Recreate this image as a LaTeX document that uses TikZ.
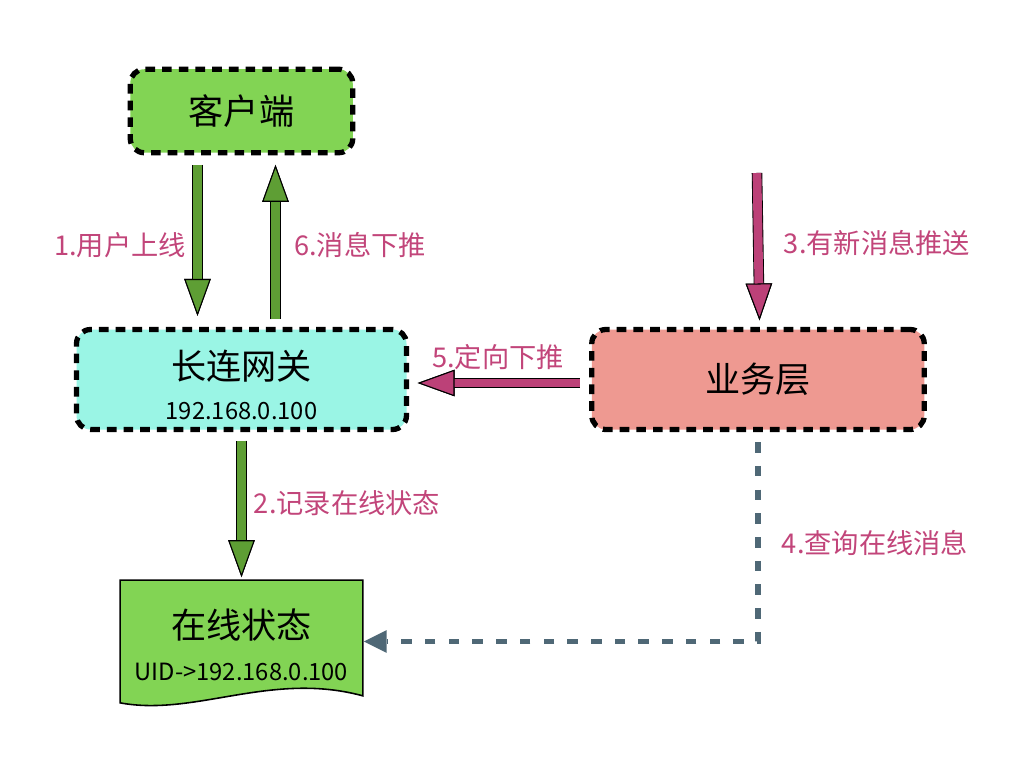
\documentclass[tikz,border=0pt]{standalone}
\usepackage{fontspec}
\newfontfamily\cjk{Noto Sans CJK SC}
\usetikzlibrary{positioning,arrows.meta,backgrounds}
\definecolor{leafgreen}{HTML}{82D454}
\definecolor{aqua}{HTML}{9AF5E5}
\definecolor{salmon}{HTML}{EE9991}
\definecolor{grassarrow}{HTML}{5E9E34}
\definecolor{berry}{HTML}{BC4178}
\definecolor{berrytext}{HTML}{C2457A}
\definecolor{slate}{HTML}{4F6876}
\newcommand\ipfont{\fontsize{13.5}{16}\selectfont}
\tikzset{
	box/.style={draw=black, line width=3pt, dash pattern=on 5.5pt off 4pt,
		rounded corners=8pt, align=center, font=\cjk\fontsize{20}{24}\selectfont},
	fatarrow/.style={draw=#1, line width=5pt, preaction={draw=black, line width=6pt},
		-{Triangle[width=15pt,length=21pt,line width=0.6pt,fill=#1,color=black]}},
	dasharrow/.style={draw=slate, line width=3.2pt, dash pattern=on 6pt off 7.5pt,
		-{Triangle[width=13pt,length=13pt,line width=0pt]}},
	lbl/.style={text=berrytext, font=\cjk\fontsize{15.5}{18}\selectfont}
}
\begin{document}
\begin{tikzpicture}
	\useasboundingbox (0,0) rectangle (20.48,15.36);
	% boxes
	\node [box, fill=leafgreen, minimum width=4.45cm, minimum height=1.67cm] (client) at (4.83,13.14) {客户端};
	\node [box, fill=aqua, minimum width=6.6cm, minimum height=2cm, below=3.43cm of client]
		(gateway) {\rule{0pt}{22.6pt}长连网关\\[-1pt]{\ipfont 192.168.0.100}};
	\node [box, fill=salmon, minimum width=6.65cm, minimum height=2cm, right=3.6cm of gateway] (service) {业务层};
	\node [align=center, font=\cjk\fontsize{20}{24}\selectfont, minimum width=4.84cm, minimum height=2.44cm,
		below=2.96cm of gateway] (state) {\rule{0pt}{21pt}在线状态\\[0pt]{\ipfont UID->192.168.0.100}};
	\begin{scope}[on background layer]
		\fill [white] (0,0) rectangle (20.48,15.36);
		\draw [fill=leafgreen, line width=0.9pt] (state.north west) -- (state.north east)
			-- ([yshift=0.14cm]state.south east)
			.. controls ([xshift=-1.84cm,yshift=0.64cm]state.south east) and ([xshift=1.5cm,yshift=-0.28cm]state.south west)
			.. (state.south west) -- cycle;
	\end{scope}
	% connectors
	\coordinate (push) at (15.14,11.9);
	\draw [fatarrow=grassarrow] ([xshift=-0.88cm,yshift=-0.19cm]client.south) -- ([xshift=-0.88cm,yshift=0.22cm]gateway.north);
	\draw [fatarrow=grassarrow] ([xshift=0.68cm,yshift=0.15cm]gateway.north) -- ([xshift=0.68cm,yshift=-0.19cm]client.south);
	\draw [fatarrow=grassarrow] ([yshift=-0.17cm]gateway.south) -- ([yshift=0.06cm]state.north);
	\draw [fatarrow=berry] (push) -- ([xshift=0.03cm,yshift=0.13cm]service.north);
	\draw [fatarrow=berry] ([xshift=-0.19cm,yshift=-0.07cm]service.west) -- ([xshift=0.17cm,yshift=-0.07cm]gateway.east);
	\draw [dasharrow] ([yshift=-0.2cm]service.south) |- ([xshift=0.02cm]state.east);
	% labels
	\node [lbl] (l1) at (2.4,10.46) {1.用户上线};
	\node [lbl] (l6) at (7.2,10.46) {6.消息下推};
	\node [lbl] (l3) at (17.54,10.5) {3.有新消息推送};
	\node [lbl] (l5) at (9.96,8.22) {5.定向下推};
	\node [lbl] (l2) at (6.94,5.3) {2.记录在线状态};
	\node [lbl] (l4) at (17.5,4.5) {4.查询在线消息};
\end{tikzpicture}
\end{document}
